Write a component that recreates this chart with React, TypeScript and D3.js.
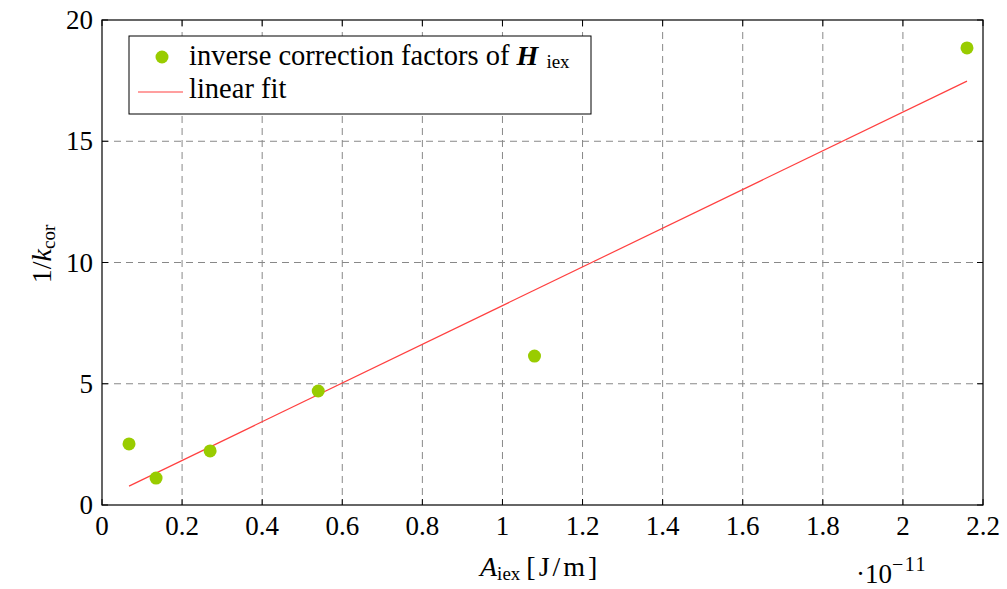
import React from "react";
import * as d3 from "d3";

const xTicks = [0, 0.2, 0.4, 0.6, 0.8, 1, 1.2, 1.4, 1.6, 1.8, 2, 2.2];
const xTickLabels = ["0", "0.2", "0.4", "0.6", "0.8", "1", "1.2", "1.4", "1.6", "1.8", "2", "2.2"];
const yTicks = [0, 5, 10, 15, 20];
const pointX = [0.0675, 0.135, 0.27, 0.54, 1.08, 2.16];
const pointY = [2.52, 1.11, 2.23, 4.7, 6.14, 18.85];
const fitX = [0.0675, 2.16];
const fitY = [0.78, 17.48];

const W = 1007, H = 589;
const L = 102, R = 983, T = 20, B = 505;
const FONT = "'Liberation Serif', 'DejaVu Serif', serif";
const GREEN = "#99cc00";
const RED = "#ff4040";

export default function App() {
  const x = d3.scaleLinear().domain([0, 2.2]).range([L, R]);
  const y = d3.scaleLinear().domain([0, 20]).range([B, T]);
  const line = d3.line<number>().x((_, i) => x(fitX[i])).y((d) => y(d));
  const tl = 6;
  return (
    <svg width={W} height={H} style={{ position: "absolute", left: 0, top: 0 }} fontFamily={FONT}>
      <rect x={0} y={0} width={W} height={H} fill="white" />
      {xTicks.slice(1, -1).map((t) => (
        <line key={"gx" + t} x1={x(t)} x2={x(t)} y1={T} y2={B} stroke="#888" strokeWidth={1} strokeDasharray="7 5" />
      ))}
      {yTicks.slice(1, -1).map((t) => (
        <line key={"gy" + t} x1={L} x2={R} y1={y(t)} y2={y(t)} stroke="#888" strokeWidth={1} strokeDasharray="7 5" />
      ))}
      {xTicks.map((t) => (
        <g key={"tx" + t}>
          <line x1={x(t)} x2={x(t)} y1={B} y2={B - tl} stroke="black" />
          <line x1={x(t)} x2={x(t)} y1={T} y2={T + tl} stroke="black" />
        </g>
      ))}
      {yTicks.map((t) => (
        <g key={"ty" + t}>
          <line x1={L} x2={L + tl} y1={y(t)} y2={y(t)} stroke="black" />
          <line x1={R} x2={R - tl} y1={y(t)} y2={y(t)} stroke="black" />
        </g>
      ))}
      <rect x={L} y={T} width={R - L} height={B - T} fill="none" stroke="black" strokeWidth={1.2} />
      {xTicks.map((t, i) => (
        <text key={"lx" + t} x={x(t)} y={B + 30} textAnchor="middle" fontSize={27}>{xTickLabels[i]}</text>
      ))}
      {yTicks.map((t) => (
        <text key={"ly" + t} x={L - 9} y={y(t) + 9} textAnchor="end" fontSize={27}>{t}</text>
      ))}
      <path d={line(fitY) || ""} fill="none" stroke={RED} strokeWidth={1.2} />
      {pointX.map((px, i) => (
        <circle key={"p" + i} cx={x(px)} cy={y(pointY[i])} r={6.5} fill={GREEN} />
      ))}
      <rect x={129} y={36} width={462} height={78} fill="white" stroke="black" strokeWidth={1} />
      <circle cx={162} cy={57} r={6.5} fill={GREEN} />
      <text x={189} y={65} fontSize={28.5}>
        inverse correction factors of{" "}
        <tspan fontStyle="italic" fontWeight="bold" fontSize={28}>H</tspan>
        <tspan fontSize={19} dx={8} dy={3}>iex</tspan>
      </text>
      <line x1={138} x2={183} y1={92} y2={92} stroke={RED} strokeWidth={1.2} />
      <text x={189} y={98} fontSize={28.5}>linear fit</text>
      <text x={480} y={576} fontSize={28}>
        <tspan fontStyle="italic">A</tspan>
        <tspan fontSize={19} dy={4}>iex</tspan>
        <tspan dy={-4} dx={6} letterSpacing={3}>[J/m]</tspan>
      </text>
      <text x={856} y={583} fontSize={27}>
        ·10<tspan fontSize={20} dy={-12} letterSpacing={1.5}>−11</tspan>
      </text>
      <text transform={`translate(51,254) rotate(-90)`} textAnchor="middle" fontSize={28}>
        1/<tspan fontStyle="italic">k</tspan><tspan fontSize={19} dy={4}>cor</tspan>
      </text>
    </svg>
  );
}
